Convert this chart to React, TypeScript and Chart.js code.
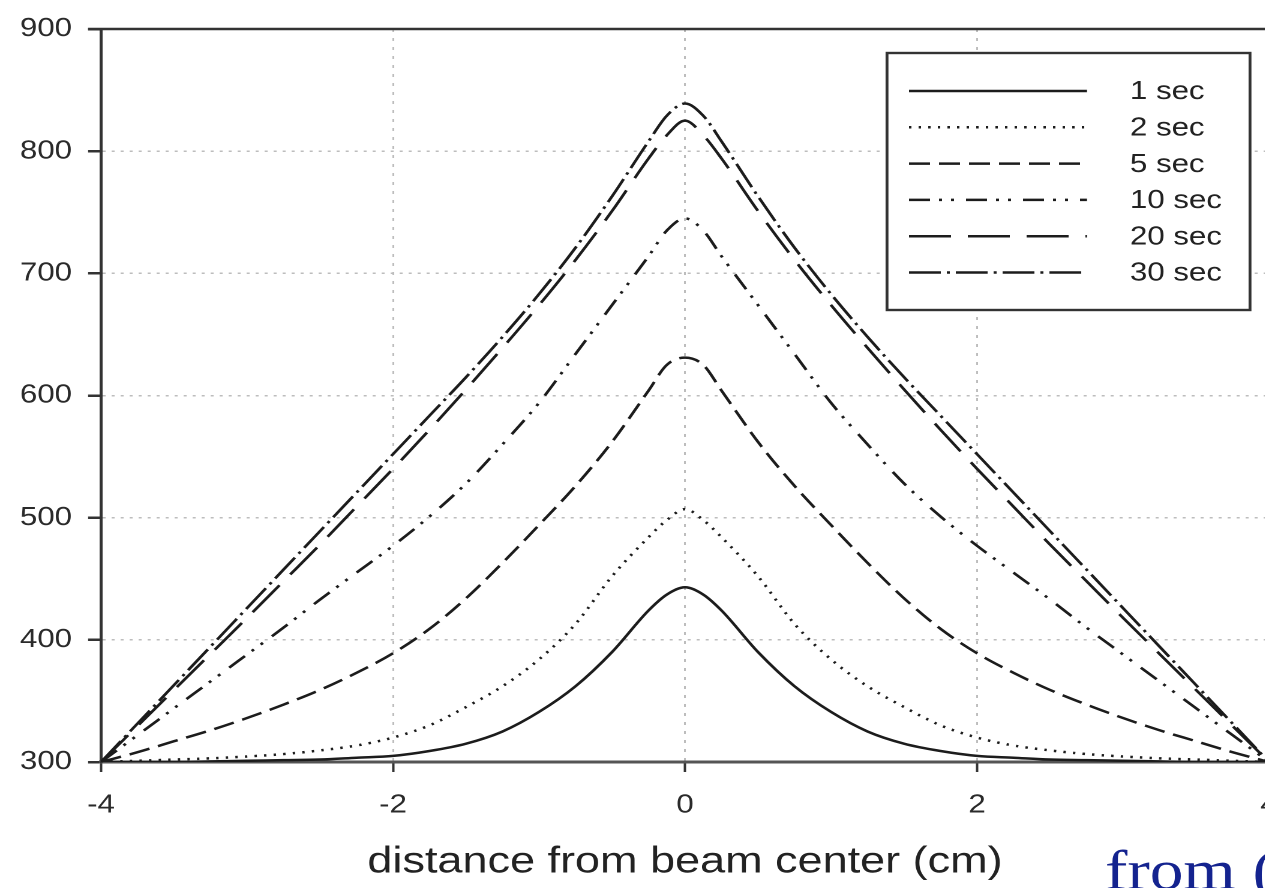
import React, { useEffect, useRef } from "react";
import { Chart, registerables } from "chart.js";

Chart.register(...registerables);

// The reference image is stretched horizontally; we draw in canvas space and stretch it.
const STRETCH_X = 1.2;
const CANVAS_W = 1075;
const CANVAS_H = 888;

const xValues = [
  -4, -3.75, -3.5, -3.25, -3, -2.75, -2.5, -2.25, -2, -1.75, -1.5, -1.25, -1, -0.75, -0.5, -0.25, -0.125,
  0,
  0.125, 0.25, 0.5, 0.75, 1, 1.25, 1.5, 1.75, 2, 2.25, 2.5, 2.75, 3, 3.25, 3.5, 3.75, 4,
];

const seriesLabels = ["1 sec", "2 sec", "5 sec", "10 sec", "20 sec", "30 sec"];

const sec1 = [
  300, 300, 300, 300.5, 301, 301.5, 302, 303.5, 305, 309, 315, 325, 341, 362, 390, 424, 437,
  443,
  437, 424, 390, 362, 341, 325, 315, 309, 305, 303.5, 302, 301.5, 301, 300.5, 300, 300, 300,
];
const sec2 = [
  300, 301, 302, 303, 304.5, 306.5, 309.5, 313.5, 320, 330, 345, 362, 384, 413, 452, 484, 498,
  507,
  498, 484, 452, 413, 384, 362, 345, 330, 320, 313.5, 309.5, 306.5, 304.5, 303, 302, 301, 300,
];
const sec5 = [
  300, 308, 317, 326, 336, 347, 359, 373, 389, 409, 434, 463, 494, 526, 562, 604, 625,
  631,
  625, 604, 562, 526, 494, 463, 434, 409, 389, 373, 359, 347, 336, 326, 317, 308, 300,
];
const sec10 = [
  300, 322, 344, 366, 388, 410, 433, 455, 477, 501, 528, 560, 594, 634, 674, 714, 735,
  745,
  735, 714, 674, 634, 594, 560, 528, 501, 477, 455, 433, 410, 388, 366, 344, 322, 300,
];
const sec20 = [
  300, 329.5, 359, 388.5, 418, 448, 478, 509, 540, 572, 605, 639, 674, 711, 751, 794, 813,
  825,
  813, 794, 751, 711, 674, 639, 605, 572, 540, 509, 478, 448, 418, 388.5, 359, 329.5, 300,
];
const sec30 = [
  300, 331.5, 363, 394.5, 426, 457.5, 489, 520.5, 552, 583.5, 615, 648, 683, 721, 763, 808, 829,
  839,
  829, 808, 763, 721, 683, 648, 615, 583.5, 552, 520.5, 489, 457.5, 426, 394.5, 363, 331.5, 300,
];

const seriesValues = [sec1, sec2, sec5, sec10, sec20, sec30];

const seriesDashes: number[][] = [
  [],
  [2, 6],
  [17.5, 7.5],
  [17.5, 7.5, 2.5, 7.5, 2.5, 10],
  [35, 14],
  [26.5, 5, 2.5, 5],
];

const xMin = -4;
const xMax = 4;
const xStep = 2;
const yMin = 300;
const yMax = 900;
const yStep = 100;

const xTitle = "distance from beam center (cm)";
const footText = "from (";

const SANS = "'Liberation Sans', Arial, Helvetica, sans-serif";
const SERIF = "'Liberation Serif', 'Times New Roman', serif";

const frameAndLegendPlugin = {
  id: "frameAndLegend",
  afterDraw(chart: any) {
    const ctx = chart.ctx as CanvasRenderingContext2D;
    const area = chart.chartArea;
    const S = STRETCH_X;
    ctx.save();

    // top frame line
    ctx.setLineDash([]);
    ctx.strokeStyle = "#333";
    ctx.lineWidth = 2.5;
    ctx.beginPath();
    ctx.moveTo(area.left - 10.8, area.top);
    ctx.lineTo(area.right, area.top);
    ctx.stroke();

    // legend box
    const bx = 887 / S;
    const by = 53;
    const bw = (1250 - 887) / S;
    const bh = 310 - 53;
    ctx.fillStyle = "#fff";
    ctx.fillRect(bx, by, bw, bh);
    ctx.strokeStyle = "#333";
    ctx.lineWidth = 2.4;
    ctx.strokeRect(bx, by, bw, bh);

    chart.data.datasets.forEach((ds: any, i: number) => {
      const y = 91 + i * 36.3;
      ctx.setLineDash(ds.borderDash || []);
      ctx.strokeStyle = ds.borderColor;
      ctx.lineWidth = ds.borderWidth;
      ctx.beginPath();
      ctx.moveTo(909 / S, y);
      ctx.lineTo(1087 / S, y);
      ctx.stroke();
      ctx.setLineDash([]);
      ctx.fillStyle = "#222";
      ctx.font = `26px ${SANS}`;
      ctx.textAlign = "left";
      ctx.textBaseline = "middle";
      ctx.fillText(ds.label, 1130 / S, y + 1);
    });

    // text of the surrounding slide
    ctx.fillStyle = "#14238f";
    ctx.font = `56px ${SERIF}`;
    ctx.textAlign = "left";
    ctx.textBaseline = "alphabetic";
    ctx.fillText(footText, 1105 / S, 889);

    ctx.restore();
  },
};

export default function App() {
  const canvasRef = useRef<HTMLCanvasElement | null>(null);

  useEffect(() => {
    const canvas = canvasRef.current;
    if (!canvas) return;

    const datasets = seriesLabels.map((label, i) => ({
      label,
      data: xValues.map((x, j) => ({ x, y: seriesValues[i][j] })),
      borderColor: "#1c1c1c",
      borderWidth: 2.5,
      borderDash: seriesDashes[i],
      pointRadius: 0,
      fill: false,
      cubicInterpolationMode: "monotone" as const,
    }));

    const chart = new Chart(canvas, {
      type: "line",
      data: { datasets },
      plugins: [frameAndLegendPlugin],
      options: {
        animation: false,
        responsive: true,
        maintainAspectRatio: false,
        devicePixelRatio: 2,
        layout: { padding: { top: 27, right: 17.5, bottom: 0, left: 0 } },
        plugins: {
          legend: { display: false },
          tooltip: { enabled: false },
          title: { display: false },
        },
        scales: {
          x: {
            type: "linear",
            min: xMin,
            max: xMax,
            afterFit: (s: any) => {
              s.height = 126;
              s.paddingLeft = 0;
              s.paddingRight = 0;
            },
            ticks: {
              stepSize: xStep,
              color: "#2a2a2a",
              padding: 17.5,
              font: { family: SANS, size: 26 },
              maxRotation: 0,
            },
            grid: {
              color: "#bdbdbd",
              lineWidth: 1.5,
              drawTicks: true,
              tickLength: 10,
              tickColor: "#333",
              tickWidth: 2,
            },
            border: { display: true, color: "#555", width: 3, dash: [3, 6] },
            title: {
              display: true,
              text: xTitle,
              color: "#222",
              font: { family: SANS, size: 37.5 },
              padding: { top: 0, bottom: 3.5 },
            },
          },
          y: {
            type: "linear",
            min: yMin,
            max: yMax,
            afterFit: (s: any) => {
              s.width = 84.2;
            },
            ticks: {
              stepSize: yStep,
              color: "#2a2a2a",
              padding: 13.4,
              font: { family: SANS, size: 26 },
            },
            grid: {
              color: "#bdbdbd",
              lineWidth: 1.5,
              drawTicks: true,
              tickLength: 10.8,
              tickColor: "#333",
              tickWidth: 2.5,
            },
            border: { display: true, color: "#333", width: 2.5, dash: [2.5, 5] },
          },
        },
      },
    });

    return () => {
      chart.destroy();
    };
  }, []);

  return (
    <div
      style={{
        position: "fixed",
        left: 0,
        top: 0,
        width: 1265,
        height: 888,
        overflow: "hidden",
        background: "#fff",
      }}
    >
      <div
        style={{
          position: "relative",
          width: CANVAS_W,
          height: CANVAS_H,
          transform: `scaleX(${STRETCH_X})`,
          transformOrigin: "0 0",
        }}
      >
        <canvas ref={canvasRef} />
      </div>
    </div>
  );
}
